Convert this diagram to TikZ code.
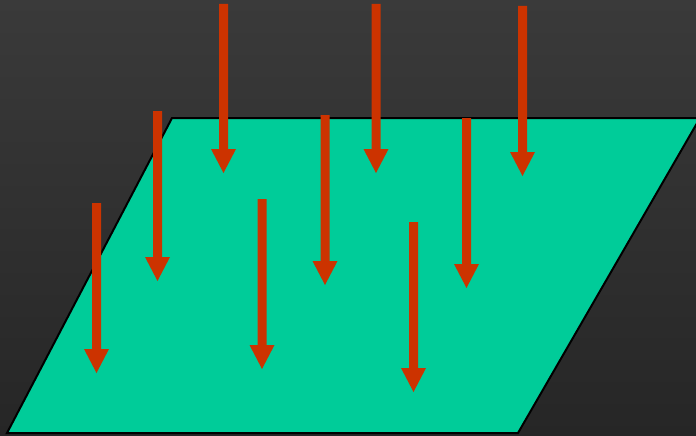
\documentclass[tikz,border=0pt]{standalone}
\begin{document}
\begin{tikzpicture}[x=1pt,y=-1pt]
\definecolor{bgtop}{HTML}{3A3A3A}
\definecolor{bgbot}{HTML}{262626}
\definecolor{plane}{HTML}{00CC99}
\definecolor{arr}{HTML}{CC3300}
\tikzset{arrowfill/.style={fill=arr},planestyle/.style={fill=plane,draw=black,line width=2pt,line join=miter}}
\newcommand\downarrowshape[3]{%
  \fill[arrowfill] (#1-4.5,#2) -- (#1+4.5,#2) -- (#1+4.5,#3-24) -- (#1+12.5,#3-24) -- (#1,#3) -- (#1-12.5,#3-24) -- (#1-4.5,#3-24) -- cycle;}
\useasboundingbox (0,0) rectangle (696,436);
\shade[top color=bgtop,bottom color=bgbot] (0,0) rectangle (696,436);
\path[planestyle] (172,118) -- (700,118) -- (518,433) -- (7,433) -- cycle;
\downarrowshape{223.5}{4}{173}
\downarrowshape{376}{4}{173}
\downarrowshape{522.5}{6}{176}
\downarrowshape{157.5}{111}{281}
\downarrowshape{325}{115}{285}
\downarrowshape{466.5}{118}{288}
\downarrowshape{96.5}{203}{373}
\downarrowshape{262}{199}{369}
\downarrowshape{413.5}{222}{392}
\end{tikzpicture}
\end{document}
